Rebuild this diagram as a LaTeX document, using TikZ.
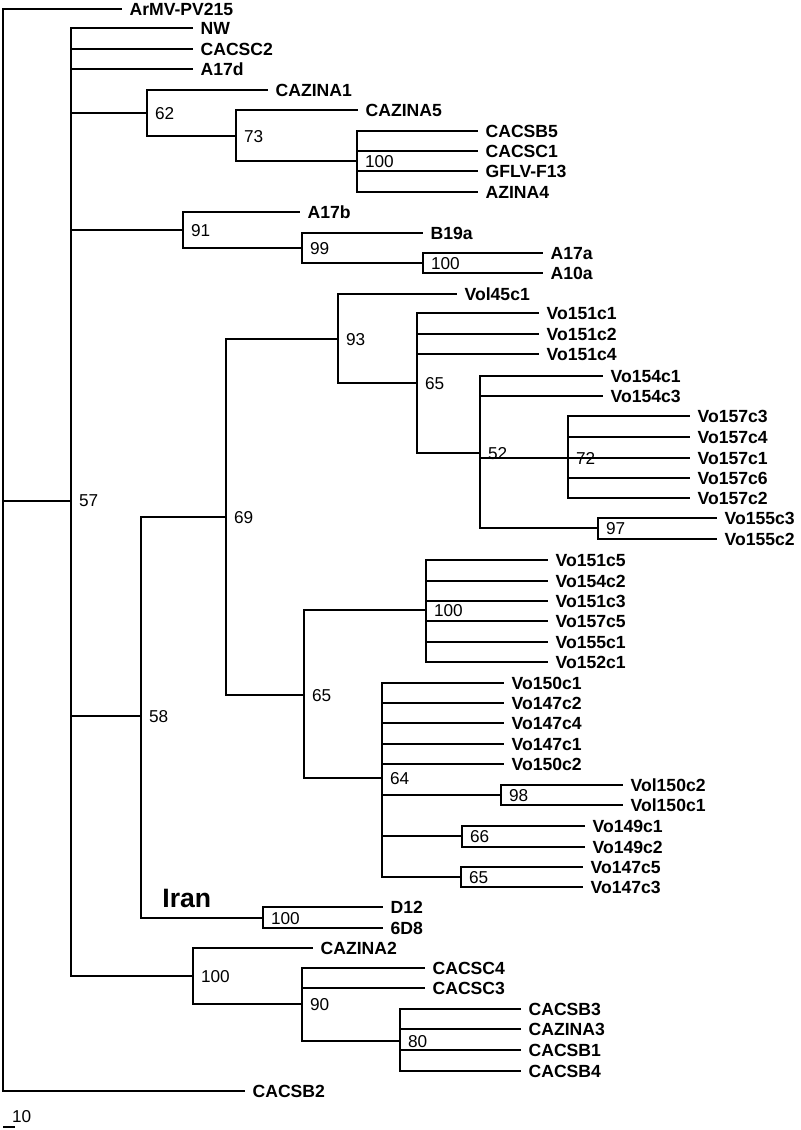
\documentclass[tikz,border=0pt]{standalone}
\usepackage{fontspec}
\setmainfont{Liberation Sans}
\begin{document}
\begin{tikzpicture}[x=0.5pt, y=-0.5pt,
		branch/.style={line width=1.35pt},
		leaf/.style={anchor=west, inner xsep=3.8pt, inner ysep=0pt, outer sep=0pt, text depth=0pt, font=\fontsize{8.8}{10}\selectfont\bfseries},
		boot/.style={anchor=west, inner xsep=4pt, inner ysep=0pt, outer sep=0pt, text depth=0pt, font=\fontsize{8.6}{10}\selectfont}]
			\useasboundingbox (0,0) rectangle (800,1130);
			
			% Internal nodes with bootstrap values
			\coordinate (root) at (3,501);
			\foreach \id/\x/\y/\val in {n57/71/501/57, n62/147/113/62, n73/236/136/73, n100a/357/161/100,
				n91/183/230/91, n99/302/248/99, n100b/423/263/100, n58/141/716/58, n69/226/517/69,
				n93/338/339/93, n65b/417/383/65, n52/480/453/52, n72/568/458/72, n97/598/528/97,
				n65a/304/695/65, n100c/426/610/100, n64/382/778/64, n98/501/795/98, n66/462/836/66,
				n65c/461/877/65, n100e/263/918/100, n100d/193/976/100, n90/302/1004/90, n80/400/1041/80} {
				\node[boot] (\id) at (\x,\y) {\val};
			}
			
			% Branches between internal nodes
			\draw[branch] (root) |- (n57.west);
			\foreach \a/\b in {n57/n62, n57/n91, n57/n58, n57/n100d, n62/n73, n73/n100a, n91/n99, n99/n100b,
				n58/n69, n58/n100e, n69/n93, n69/n65a, n93/n65b, n65b/n52, n52/n72, n52/n97,
				n65a/n100c, n65a/n64, n64/n98, n64/n66, n64/n65c, n100d/n90, n90/n80} {
				\draw[branch] (\a.west) |- (\b.west);
			}
			
			% Outgroups
			\node[leaf] (armv) at (122,9) {ArMV-PV215};
			\node[leaf] (cacsb2) at (245,1091) {CACSB2};
			\draw[branch] (root) |- (armv.west);
			\draw[branch] (root) |- (cacsb2.west);
			
			% Leaves
			\foreach \p/\x/\y/\id/\name in {n57/193/28/nw/NW, n57/193/49/cacsc2/CACSC2, n57/193/69/a17d/A17d,
				n62/268/90/cazina1/CAZINA1, n73/358/110/cazina5/CAZINA5,
				n100a/478/131/cacsb5/CACSB5, n100a/478/151/cacsc1/CACSC1, n100a/478/171/gflv/GFLV-F13, n100a/478/192/azina4/AZINA4,
				n91/300/212/a17b/A17b, n99/423/233/b19a/B19a, n100b/543/253/a17a/A17a, n100b/543/273/a10a/A10a,
				n93/457/294/vol45c1/Vol45c1,
				n65b/539/313/vo151c1/Vo151c1, n65b/539/334/vo151c2/Vo151c2, n65b/539/354/vo151c4/Vo151c4,
				n52/603/376/vo154c1/Vo154c1, n52/603/396/vo154c3/Vo154c3,
				n72/690/416/vo157c3/Vo157c3, n72/690/437/vo157c4/Vo157c4, n72/690/458/vo157c1/Vo157c1,
				n72/690/478/vo157c6/Vo157c6, n72/690/498/vo157c2/Vo157c2,
				n97/717/518/vo155c3/Vo155c3, n97/717/539/vo155c2/Vo155c2,
				n100c/548/560/vo151c5/Vo151c5, n100c/548/581/vo154c2/Vo154c2, n100c/548/601/vo151c3/Vo151c3,
				n100c/548/621/vo157c5/Vo157c5, n100c/548/642/vo155c1/Vo155c1, n100c/548/662/vo152c1/Vo152c1,
				n64/504/683/vo150c1/Vo150c1, n64/504/703/vo147c2/Vo147c2, n64/504/723/vo147c4/Vo147c4,
				n64/504/744/vo147c1/Vo147c1, n64/504/764/vo150c2/Vo150c2,
				n98/623/785/vol150c2/Vol150c2, n98/623/805/vol150c1/Vol150c1,
				n66/585/826/vo149c1/Vo149c1, n66/585/847/vo149c2/Vo149c2,
				n65c/583/867/vo147c5/Vo147c5, n65c/583/887/vo147c3/Vo147c3,
				n100e/383/907/d12/D12, n100e/383/928/six/6D8,
				n100d/313/948/cazina2/CAZINA2, n90/425/968/cacsc4/CACSC4, n90/425/988/cacsc3/CACSC3,
				n80/521/1009/cacsb3/CACSB3, n80/521/1029/cazina3/CAZINA3, n80/521/1050/cacsb1/CACSB1, n80/521/1071/cacsb4/CACSB4} {
				\node[leaf] (\id) at (\x,\y) {\name};
				\draw[branch] (\p.west) |- (\id.west);
			}
			
			% Iran label
			\node[anchor=west, inner sep=0pt, font=\fontsize{13.3}{15}\selectfont\bfseries] (iran) at (162,898) {Iran};
			
			% Scale bar
			\coordinate (bar0) at (3,1127);
			\coordinate (bar1) at (15,1127);
			\draw[line width=1.35pt] (bar0) -- (bar1);
			\node[boot, inner xsep=0pt] (barlabel) at (12,1116) {10};
		\end{tikzpicture}
\end{document}
